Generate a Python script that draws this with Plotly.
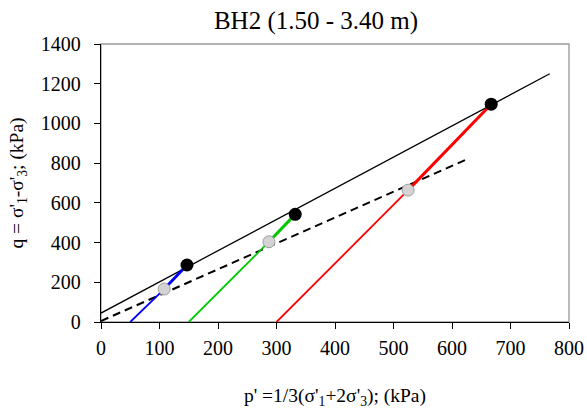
import plotly.graph_objects as go

# Failure envelopes
env_peak_p = [0, 767]
env_peak_q = [45, 1250]
env_grey_p = [0, 625]
env_grey_q = [5, 819]

# Stress paths: start, grey point, black (failure) point
path_names = ["Path 1", "Path 2", "Path 3"]
path_colors = ["#0000ff", "#00c800", "#ff0000"]
start_p = [50, 150, 300]
start_q = [0, 0, 0]
grey_p = [108, 287, 525]
grey_q = [166, 404, 664]
peak_p = [147, 332, 667]
peak_q = [287, 542, 1097]

x_ticks = [0, 100, 200, 300, 400, 500, 600, 700, 800]
y_ticks = [0, 200, 400, 600, 800, 1000, 1200, 1400]

fig = go.Figure()

fig.add_trace(go.Scatter(x=env_peak_p, y=env_peak_q, mode="lines",
                         line=dict(color="black", width=1.3), showlegend=False))
fig.add_trace(go.Scatter(x=env_grey_p, y=env_grey_q, mode="lines",
                         line=dict(color="black", width=2, dash="8px,5px"), showlegend=False))

for i in range(3):
    fig.add_trace(go.Scatter(x=[start_p[i], grey_p[i]], y=[start_q[i], grey_q[i]], mode="lines",
                             line=dict(color=path_colors[i], width=1.8), showlegend=False))
    fig.add_trace(go.Scatter(x=[grey_p[i], peak_p[i]], y=[grey_q[i], peak_q[i]], mode="lines",
                             line=dict(color=path_colors[i], width=3), showlegend=False))

fig.add_trace(go.Scatter(x=grey_p, y=grey_q, mode="markers",
                         marker=dict(color="#d3d3d3", size=12, line=dict(color="#a0a0a0", width=1)),
                         showlegend=False))
fig.add_trace(go.Scatter(x=peak_p, y=peak_q, mode="markers",
                         marker=dict(color="black", size=13), showlegend=False))

font = "Liberation Serif, Times New Roman, serif"

fig.update_layout(
    width=587, height=412,
    margin=dict(l=101, r=18, t=44, b=90),
    paper_bgcolor="white", plot_bgcolor="white",
    font=dict(family=font, color="black", size=20),
    title=dict(text="BH2 (1.50 - 3.40 m)", x=316/587, xanchor="center", xref="container",
               y=1 - 20/412, yanchor="middle", yref="container",
               font=dict(size=25, family=font)),
    shapes=[dict(type="rect", xref="paper", yref="paper", x0=0, y0=0, x1=1, y1=1,
                 line=dict(color="#999999", width=1.3), layer="below")],
)

fig.update_xaxes(range=[0, 800], tickvals=x_ticks, ticks="outside", ticklen=6,
                 tickcolor="black", showgrid=False, zeroline=False,
                 showline=True, linecolor="black", linewidth=1.3,
                 ticklabelstandoff=2, tickfont=dict(size=20), automargin=False,
                 title=dict(text="p' =1/3(σ'<sub>1</sub>+2σ'<sub>3</sub>); (kPa)",
                            font=dict(size=19.5), standoff=30))
fig.update_yaxes(range=[0, 1400], tickvals=y_ticks, ticks="outside", ticklen=6,
                 tickcolor="black", showgrid=False, zeroline=False,
                 showline=True, linecolor="black", linewidth=1.3,
                 ticklabelstandoff=9, tickfont=dict(size=20), automargin=False,
                 title=dict(text="q = σ'<sub>1</sub>-σ'<sub>3</sub>; (kPa)",
                            font=dict(size=19.5), standoff=12))

fig.write_html("out.html")
